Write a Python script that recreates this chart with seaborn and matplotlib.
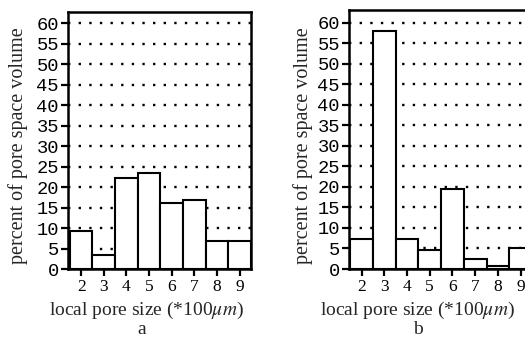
import matplotlib
matplotlib.use("Agg")
import matplotlib.pyplot as plt
import seaborn as sns
import pandas as pd

sizes = [2, 3, 4, 5, 6, 7, 8, 9]
percent_a = [9.2, 3.3, 22.3, 23.4, 16.1, 16.8, 6.9, 6.9]
percent_b = [7.4, 58.0, 7.4, 4.6, 19.5, 2.4, 0.7, 5.2]
yticks = list(range(0, 61, 5))
ylabel = "percent of pore space volume"
xlabel = "local pore size (*100$\\mu m$)"
panel_names = ["a", "b"]

sns.set_style("white")
plt.rcParams["font.family"] = ["Liberation Serif", "DejaVu Serif"]
plt.rcParams["mathtext.fontset"] = "stix"

fig = plt.figure(figsize=(5.25, 3.38), dpi=100)
W, H = 525, 338

def px_axes(left, top, right, bottom):
    return fig.add_axes([left / W, 1 - bottom / H, (right - left) / W, (bottom - top) / H])

ax_a = px_axes(68, 12, 251, 269)
ax_b = px_axes(349, 10, 532, 269)

specs = [
    (ax_a, percent_a, (1.42, 9.5), 62.76, 18, 147, 142, panel_names[0]),
    (ax_b, percent_b, (1.45, 9.5), 63.1, 303, 418, 418, panel_names[1]),
]

for ax, vals, xlim, ytop, ylab_x, xlab_x, name_x, name in specs:
    df = pd.DataFrame({"size": sizes, "percent": vals})
    sns.barplot(data=df, x="size", y="percent", native_scale=True, width=1.0,
                color="white", edgecolor="black", linewidth=1.5, ax=ax,
                saturation=1, zorder=3)
    for p in ax.patches:
        p.set_facecolor("white")
    ax.set_xlim(*xlim)
    ax.set_ylim(0, ytop)
    ax.set_xticks(sizes)
    ax.set_xticklabels([str(s) for s in sizes], fontsize=12.5, family="Liberation Serif")
    ax.set_yticks(yticks)
    ax.set_yticklabels([str(t) for t in yticks], fontsize=13.5, family="Liberation Mono")
    ax.set_xlabel("")
    ax.set_ylabel("")
    ax.yaxis.grid(True, linestyle=(0, (1, 3.5)), linewidth=1.7, color="black")
    ax.xaxis.grid(False)
    ax.set_axisbelow(True)
    for s in ax.spines.values():
        s.set_visible(True)
        s.set_linewidth(1.8)
        s.set_color("black")
    ax.tick_params(axis="both", direction="out", length=5, width=1.6, color="black",
                   labelcolor="black", pad=1.5, left=True, bottom=True)
    ax.tick_params(axis="x", pad=2.5)
    fig.text(ylab_x / W, 1 - 146 / H, ylabel, rotation=90, ha="center", va="center",
             fontsize=14.5)
    fig.text(xlab_x / W, 1 - 310 / H, xlabel, ha="center", va="center", fontsize=14)
    fig.text(name_x / W, 1 - 329 / H, name, ha="center", va="center", fontsize=14)

fig.savefig("out.png", dpi=100)
